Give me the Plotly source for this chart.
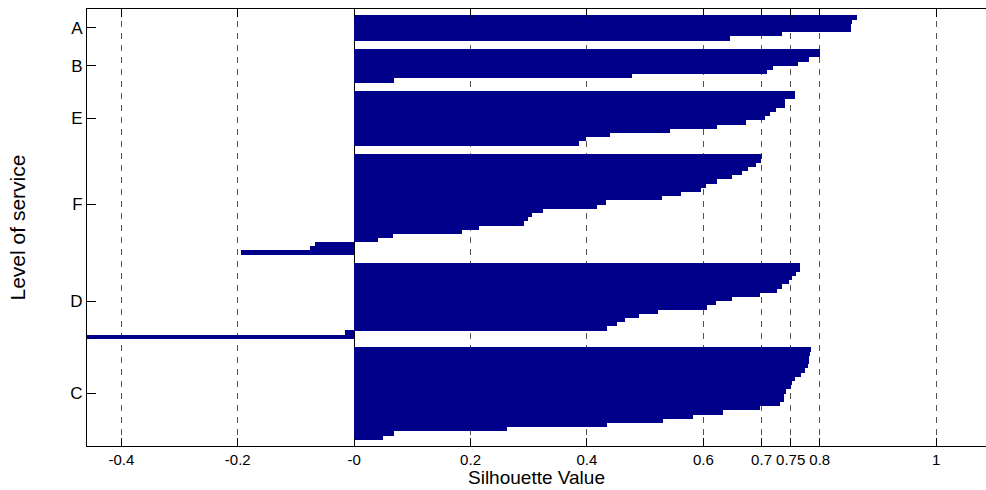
import plotly.graph_objects as go

# Cluster names, top to bottom
clusters = ["A", "B", "E", "F", "D", "C"]

# Silhouette values per cluster (sorted, top row first)
sil_A = [0.864, 0.856, 0.854, 0.853, 0.735, 0.646]
sil_B = [0.800, 0.800, 0.782, 0.763, 0.720, 0.710, 0.478, 0.069]
sil_E = [0.758, 0.758, 0.741, 0.740, 0.724, 0.714, 0.706, 0.674, 0.624,
         0.543, 0.440, 0.399, 0.386]
sil_F = [0.700, 0.699, 0.691, 0.677, 0.667, 0.650, 0.623, 0.605, 0.596,
         0.561, 0.529, 0.432, 0.418, 0.324, 0.305, 0.298, 0.291, 0.214,
         0.185, 0.066, 0.041, -0.068, -0.075, -0.195]
sil_D = [0.766, 0.766, 0.759, 0.753, 0.747, 0.735, 0.726, 0.697, 0.650,
         0.622, 0.606, 0.522, 0.489, 0.465, 0.452, 0.434, -0.016, -0.459]
sil_C = [0.785, 0.784, 0.782, 0.781, 0.780, 0.774, 0.768, 0.758, 0.753,
         0.750, 0.742, 0.739, 0.738, 0.731, 0.697, 0.634, 0.583, 0.530,
         0.435, 0.263, 0.068, 0.050]

x_tickvals = [-0.4, -0.2, 0, 0.2, 0.4, 0.6, 0.7, 0.75, 0.8, 1]
x_ticktext = ["-0.4", "-0.2", "-0", "0.2", "0.4", "0.6", "0.7", "0.75", "0.8", "1"]

groups = [sil_A, sil_B, sil_E, sil_F, sil_D, sil_C]

# Silhouette-plot layout: 'space' empty slots before, between and after clusters
space = 2
ypos, xval, tick_pos = [], [], []
cur = space
for g in groups:
    start = cur + 1
    for v in g:
        cur += 1
        ypos.append(cur)
        xval.append(v)
    tick_pos.append((start + cur) / 2)
    cur += space
total = cur

BAR = "#00008B"
fig = go.Figure(go.Bar(
    x=xval, y=ypos, orientation="h", width=1.06,
    marker=dict(color=BAR, line=dict(width=0)),
    hoverinfo="x",
))

x_min = min(xval)
x_max = x_min + (986 - 87) / 582.0

fig.update_layout(
    width=986, height=490, autosize=False,
    margin=dict(l=87, r=0, t=9, b=44, pad=0),
    paper_bgcolor="white", plot_bgcolor="white",
    showlegend=False, bargap=0,
    font=dict(family="Liberation Sans, Arial, sans-serif", color="black"),
    xaxis=dict(
        range=[x_min, x_max],
        tickvals=x_tickvals, ticktext=x_ticktext,
        tickfont=dict(size=15, color="black"),
        ticks="inside", ticklen=8, tickcolor="black", tickwidth=1,
        showline=True, linecolor="black", linewidth=1, mirror="ticks",
        showgrid=True, gridcolor="#555555", gridwidth=1, griddash="6px,6px",
        zeroline=True, zerolinecolor="black", zerolinewidth=1,
    ),
    yaxis=dict(
        range=[total, 1],
        tickvals=tick_pos, ticktext=clusters,
        tickfont=dict(size=17, color="black"),
        ticks="inside", ticklen=9, tickcolor="black", tickwidth=1,
        showline=True, linecolor="black", linewidth=1, mirror=False,
        showgrid=False, zeroline=False,
    ),
    annotations=[
        dict(text="Silhouette Value", x=0.5, y=0, xref="paper", yref="paper",
             xanchor="center", yanchor="top", yshift=-20, showarrow=False,
             borderpad=0, font=dict(size=19, color="black")),
        dict(text="Level of service", x=0, y=0.5, xref="paper", yref="paper",
             xanchor="center", yanchor="middle", xshift=-70, showarrow=False,
             textangle=-90, borderpad=0, font=dict(size=21, color="black")),
    ],
)

fig.write_html("out.html", config={"displayModeBar": False},
               post_script="document.body.style.margin='0';")
